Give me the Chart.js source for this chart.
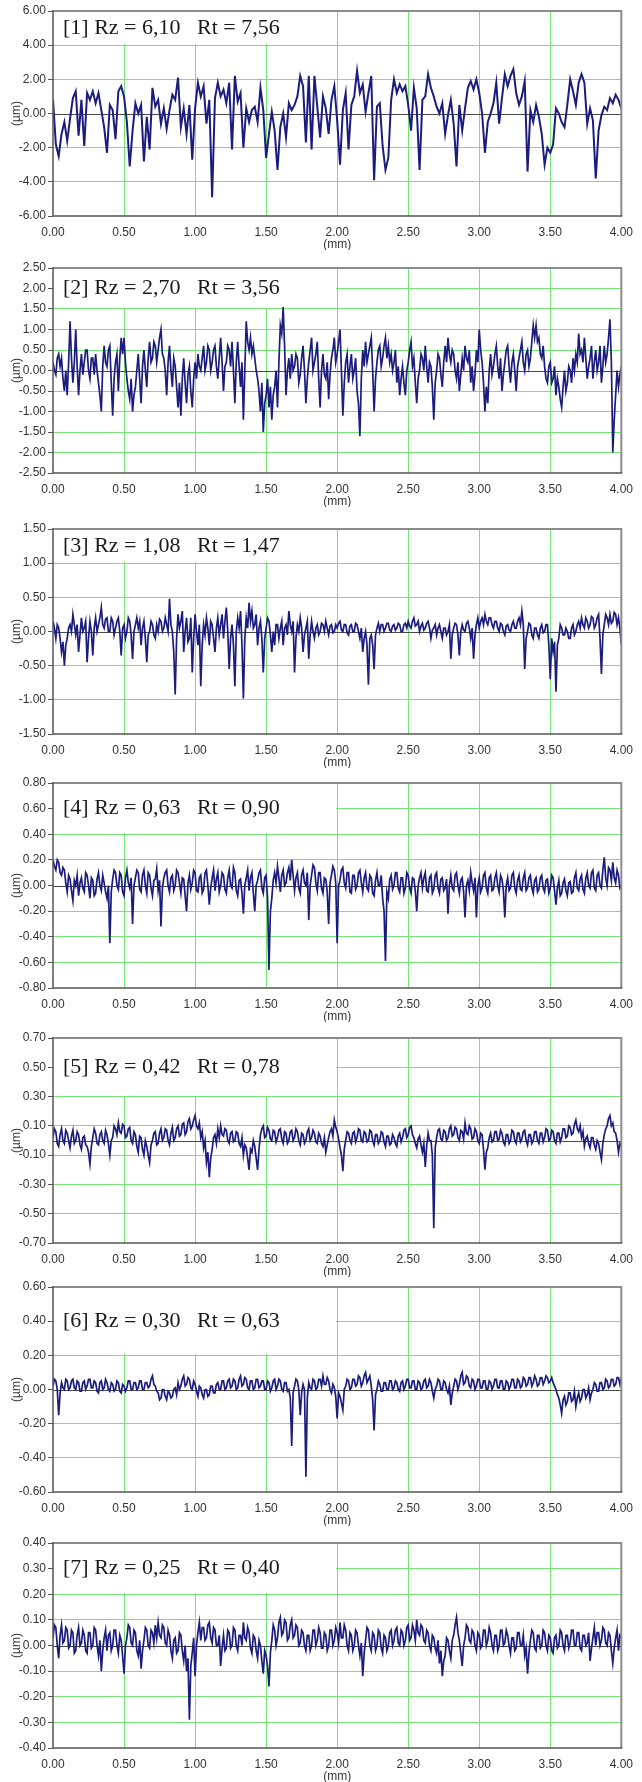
<!DOCTYPE html>
<html>
<head>
<meta charset="utf-8">
<script src="https://cdn.jsdelivr.net/npm/chart.js@4.4.1/dist/chart.umd.min.js"></script>
<style>
    body { margin: 0; background: #fff; width: 642px; height: 1782px; position: relative; overflow: hidden; }
    .panel { position: absolute; left: 0; width: 642px; height: 250px; }
</style>
</head>
<body>
<div class="panel" style="top:0px"><canvas id="p1" width="642" height="250"></canvas></div>
<div class="panel" style="top:257px"><canvas id="p2" width="642" height="250"></canvas></div>
<div class="panel" style="top:518px"><canvas id="p3" width="642" height="250"></canvas></div>
<div class="panel" style="top:772px"><canvas id="p4" width="642" height="250"></canvas></div>
<div class="panel" style="top:1027px"><canvas id="p5" width="642" height="250"></canvas></div>
<div class="panel" style="top:1276px"><canvas id="p6" width="642" height="250"></canvas></div>
<div class="panel" style="top:1532px"><canvas id="p7" width="642" height="250"></canvas></div>
<script>
// --------------------------------------------------------------------
// Data - profile heights (µm), evenly sampled from 0.00 to 4.00 mm
// (profile 1: every 0.02 mm, profiles 2-7: every 0.01 mm)
// --------------------------------------------------------------------
const X_START = 0;
const X_END = 4;

const profile1 = [
    0.8, -1.8, -2.5, -1.2, -0.5, -1.6, -0.3, 0.9, 1.3, -1.3, 0.8, -1.9, 1.2, 0.8, 1.3, 0.6, 1.2, 0.2, -0.8, -2.3,
    0.5, 0.2, -1.5, 1.3, 1.6, 1.0, -0.5, -3.1, -1.0, 0.6, 0.0, 0.5, -2.8, -0.2, -2.1, 1.5, 0.4, 0.8, -0.6, 0.3,
    -0.9, 0.2, 1.1, 0.8, 2.1, -0.8, 0.3, -1.2, 0.5, -2.7, 0.3, 1.8, 1.0, 1.6, -0.6, 0.8, -4.9, 0.9, 1.8, 1.0,
    1.4, 0.6, 1.8, -2.1, 2.2, 0.7, 1.2, -2.0, 0.3, -0.5, 0.2, 0.4, -0.5, 1.5, 0.2, -2.6, -1.2, 0.1, -1.0, -3.3,
    -0.8, 0.0, -1.4, 0.6, 0.2, 0.5, 1.0, 2.2, 1.6, -1.7, 2.2, -2.1, 2.2, 0.4, -1.4, 1.0, 0.3, -1.2, 0.8, 1.6,
    -0.4, -3.0, 0.2, 1.2, -2.1, 0.5, 1.0, 2.5, 1.2, 1.7, 0.1, 1.2, 2.2, -3.9, 0.4, 0.6, -1.9, -3.3, -2.6, 0.8,
    2.0, 1.2, 1.7, 1.3, 1.6, 0.5, -1.0, 1.5, 0.3, -3.3, 0.8, 1.0, 2.3, 1.5, 1.0, 0.4, 0.0, 0.6, -1.2, -0.1,
    0.8, -0.6, -3.1, 0.5, -1.0, 0.3, 1.5, 1.9, 1.4, 2.0, 1.2, 0.0, -2.3, -0.5, 0.0, 0.6, 1.8, -0.6, 0.9, 2.3,
    1.6, 2.2, 2.6, 1.2, 0.5, 1.0, 1.9, -3.4, 0.2, -0.5, 0.5, -0.2, -1.2, -3.0, -2.0, -2.3, -1.8, 0.3, 0.0, -0.5,
    -0.8, 0.5, 2.0, 1.3, 0.5, 1.8, 2.3, 1.8, -0.6, 0.3, -0.4, -3.8, -1.0, -0.1, 0.4, 0.2, 0.9, 0.6, 1.1, 0.8,
    0.3
];

const profile2 = [
    0.2, 0.0, -0.1, 0.3, 0.4, 0.1, 0.3, -0.2, -0.5, 0.0, -0.6, 0.2, 1.2, 0.3, -0.3, 0.2, 1.0, 0.1, -0.6, 0.0,
    0.4, -0.1, 0.2, 0.5, 0.5, 0.0, -0.2, 0.3, 0.3, -0.1, 0.4, 0.0, -0.3, -0.6, -1.0, 0.1, 0.6, 0.2, 0.1, 0.5,
    0.6, -0.3, -1.1, -0.2, 0.2, 0.4, -0.5, 0.3, 0.8, 0.4, 0.8, 0.2, -0.2, -0.5, -0.7, -0.2, -1.0, -0.6, -0.4, 0.0,
    0.4, -0.2, -0.8, 0.1, 0.5, 0.0, -0.4, 0.3, 0.7, 0.2, 0.3, 0.7, 0.6, 0.2, 0.5, 0.8, 1.0, 0.4, 0.3, 0.0,
    -0.6, 0.2, 0.6, 0.0, -0.4, 0.3, 0.1, -0.4, -0.9, -0.3, -1.1, -0.2, 0.3, -0.3, -0.8, -0.1, 0.1, -0.5, -0.9, -0.2,
    0.2, -0.2, 0.4, 0.1, 0.0, 0.3, 0.6, 0.0, 0.2, 0.6, 0.5, 0.0, 0.2, 0.5, 0.6, 0.1, -0.2, 0.3, 0.8, 0.2,
    -0.5, 0.1, 0.2, 0.6, 0.5, 0.1, 0.7, 0.0, -0.8, 0.2, 0.7, 0.1, -0.4, 0.2, -1.2, 0.0, 1.2, 0.7, 0.5, 0.8,
    0.4, 0.6, 0.3, 0.0, -0.2, -0.5, -1.0, -0.3, -1.5, -0.8, -0.6, -0.2, -0.9, -0.4, -1.2, -0.6, -0.4, 0.0, -0.9, 0.2,
    1.1, 0.9, 1.55, 0.6, -0.6, 0.0, 0.3, -0.2, 0.4, 0.0, 0.1, 0.4, 0.3, -0.3, -0.1, 0.3, 0.6, 0.0, -0.8, -0.2,
    0.2, 0.5, 0.8, 0.0, 0.2, 0.4, 0.7, -0.2, -0.9, 0.0, 0.4, -0.1, -0.2, 0.2, -0.7, -0.1, 0.3, 0.5, 0.8, 0.2,
    0.4, 0.7, 1.0, 0.0, -1.1, -0.3, 0.2, 0.4, -0.3, 0.1, 0.4, -0.2, 0.0, 0.3, -0.5, -0.8, -1.6, -0.2, 0.5, 0.1,
    0.7, 0.2, 0.4, 0.6, 0.8, 0.0, -1.0, -0.2, 0.2, 0.5, 0.6, 0.1, 0.3, 0.6, 0.8, 0.3, 0.6, 0.2, 0.4, 0.0,
    0.2, 0.5, -0.3, 0.1, -0.6, -0.2, 0.1, -0.3, -0.6, 0.0, 0.2, 0.5, 0.7, 0.1, 0.3, -0.3, -0.8, -0.2, 0.0, 0.4,
    0.3, 0.0, 0.6, 0.1, -0.3, 0.2, 0.1, -0.4, -1.2, -0.3, 0.0, 0.4, 0.3, -0.1, -0.4, 0.2, 0.6, 0.2, 0.8, 0.4,
    0.2, 0.5, 0.4, 0.0, -0.2, 0.2, -0.5, -0.1, 0.3, 0.0, 0.6, 0.3, 0.2, 0.5, -0.3, 0.1, -0.5, -0.1, 0.5, 0.2,
    1.0, 0.5, 0.2, -0.3, -1.0, -0.4, -0.8, 0.0, 0.4, -0.1, 0.1, 0.4, 0.6, 0.1, -0.2, 0.3, -0.5, -0.1, 0.2, 0.5,
    0.6, 0.1, -0.3, 0.2, 0.4, 0.0, -0.5, 0.1, 0.3, 0.5, 0.7, 0.2, 0.0, 0.4, 0.5, 0.1, 0.3, 0.7, 1.1, 0.8,
    1.1, 0.7, 0.8, 0.4, 0.3, 0.6, 0.1, -0.2, -0.3, 0.1, 0.2, -0.3, -0.2, 0.1, -0.6, -0.2, -0.4, -0.7, -0.9, -0.4,
    0.0, -0.5, -0.3, 0.1, 0.0, -0.3, 0.3, 0.0, 0.4, 0.2, 0.9, 0.4, 0.5, 0.2, 0.8, 0.3, -0.2, 0.1, 0.3, 0.6,
    -0.2, 0.2, 0.5, 0.0, 0.2, 0.6, -0.3, 0.1, 0.6, 0.2, 0.4, 0.8, 1.25, 0.2, -2.0, -1.2, -0.6, 0.0, -0.4, -0.1,
    0.1
];

const profile3 = [
    0.15, 0.05, -0.1, 0.1, 0.05, -0.1, -0.3, -0.15, -0.5, -0.2, -0.1, 0.05, 0.1, 0.0, 0.25, 0.1, -0.05, 0.1, -0.3, -0.05,
    0.2, 0.0, 0.05, 0.15, -0.45, -0.1, 0.15, 0.0, -0.35, 0.05, 0.2, 0.0, 0.1, 0.2, 0.35, 0.1, 0.05, 0.18, 0.2, 0.0,
    0.0, 0.2, 0.15, -0.05, 0.05, 0.15, 0.2, 0.0, -0.35, 0.05, 0.1, -0.1, 0.0, 0.2, 0.15, -0.05, -0.4, 0.0, 0.1, 0.2,
    0.05, 0.15, -0.2, 0.05, 0.15, -0.1, -0.45, -0.05, 0.0, 0.15, 0.1, -0.05, -0.1, 0.1, 0.0, 0.18, 0.15, 0.0, 0.05, 0.2,
    0.1, 0.0, 0.48, 0.1, 0.0, -0.3, -0.92, -0.1, 0.25, 0.05, 0.15, 0.3, -0.3, 0.0, 0.2, -0.15, -0.1, 0.2, -0.6, -0.1,
    0.25, 0.0, -0.2, 0.1, -0.8, -0.2, 0.1, -0.05, 0.2, 0.05, -0.2, 0.15, 0.1, -0.1, -0.3, 0.05, 0.2, -0.05, 0.1, 0.25,
    -0.1, 0.15, 0.35, 0.0, -0.55, -0.1, 0.1, -0.2, -0.8, 0.0, 0.2, 0.05, 0.3, -0.2, -0.98, -0.1, 0.2, 0.05, 0.42, 0.15,
    0.3, 0.05, 0.1, 0.25, -0.2, 0.05, 0.15, -0.1, -0.6, -0.1, 0.05, 0.2, 0.15, -0.05, -0.3, 0.0, -0.2, 0.1, 0.1, -0.1,
    0.05, 0.15, -0.2, 0.05, 0.1, -0.05, 0.3, 0.1, 0.0, 0.15, -0.6, -0.1, 0.1, 0.0, 0.2, 0.05, -0.3, -0.05, 0.05, 0.15,
    -0.4, -0.05, 0.15, 0.0, -0.1, 0.05, 0.1, -0.05, 0.0, 0.12, 0.1, 0.0, 0.15, 0.05, -0.05, 0.08, 0.1, -0.02, 0.0, 0.1,
    0.05, 0.12, 0.15, 0.02, 0.0, 0.1, 0.1, -0.02, -0.05, 0.08, 0.1, 0.0, 0.0, 0.12, 0.1, 0.0, -0.1, 0.05, -0.3, -0.1,
    0.0, -0.2, -0.78, -0.1, -0.05, -0.2, -0.55, -0.05, 0.05, 0.12, 0.0, 0.1, 0.1, 0.0, 0.05, 0.12, 0.12, 0.02, 0.0, 0.08,
    0.1, 0.02, 0.05, 0.12, 0.1, 0.0, 0.0, 0.1, 0.12, 0.05, 0.15, 0.08, 0.05, 0.15, 0.2, 0.08, 0.1, 0.15, 0.0, 0.08,
    0.12, 0.02, 0.05, 0.12, 0.15, 0.05, -0.1, 0.02, 0.05, 0.1, -0.05, 0.05, 0.1, 0.0, -0.1, 0.05, 0.05, -0.05, 0.0, 0.1,
    -0.4, -0.05, 0.05, 0.12, 0.1, -0.05, -0.35, 0.0, 0.1, 0.02, 0.0, 0.12, 0.15, 0.05, -0.1, 0.05, -0.4, -0.05, 0.1, 0.2,
    0.05, 0.15, 0.2, 0.1, 0.25, 0.15, 0.1, 0.2, 0.2, 0.1, 0.05, 0.15, 0.15, 0.05, 0.0, 0.12, 0.1, 0.0, -0.05, 0.08,
    0.1, 0.02, 0.0, 0.1, 0.15, 0.05, 0.05, 0.15, 0.2, 0.1, 0.3, 0.1, -0.55, -0.1, 0.0, 0.12, 0.1, -0.05, -0.1, 0.05,
    0.05, -0.05, -0.1, 0.05, 0.1, -0.02, 0.0, 0.1, 0.1, -0.2, -0.7, -0.1, -0.3, -0.15, -0.88, -0.2, -0.1, 0.1, 0.05, -0.05,
    -0.05, 0.05, 0.0, -0.1, -0.1, 0.05, 0.1, -0.05, 0.0, 0.1, 0.15, 0.05, 0.2, 0.1, 0.05, 0.2, 0.15, 0.05, 0.1, 0.22,
    0.2, 0.05, 0.1, 0.2, 0.25, -0.1, -0.62, -0.05, 0.1, 0.25, 0.2, 0.1, 0.25, 0.12, 0.15, 0.28, 0.25, 0.1, 0.2, 0.05,
    -0.2
];

const profile4 = [
    0.2, 0.15, 0.12, 0.2, 0.18, 0.1, 0.08, 0.14, 0.12, 0.02, -0.05, 0.08, 0.05, -0.04, -0.12, 0.04, 0.0, 0.08, -0.08, 0.02,
    0.06, -0.02, -0.05, 0.1, 0.08, 0.0, -0.1, 0.06, 0.04, -0.08, -0.06, 0.05, 0.1, 0.0, -0.04, 0.08, 0.02, -0.05, -0.1, 0.0,
    -0.45, -0.05, 0.05, 0.12, 0.1, 0.0, -0.03, 0.1, 0.08, -0.05, -0.08, 0.06, 0.12, 0.02, -0.02, 0.06, -0.3, 0.0, 0.06, 0.12,
    0.1, -0.03, -0.05, 0.08, 0.12, 0.0, -0.06, 0.1, 0.08, -0.02, -0.08, 0.04, 0.05, 0.13, -0.04, 0.04, -0.32, -0.02, 0.06, 0.1,
    0.12, 0.0, -0.05, 0.06, 0.08, -0.04, 0.0, 0.12, 0.1, 0.02, -0.06, 0.06, 0.05, -0.08, -0.2, 0.02, 0.08, -0.03, 0.02, 0.12,
    0.1, -0.04, -0.05, 0.06, 0.08, -0.06, -0.03, 0.1, 0.12, 0.0, -0.15, -0.02, 0.06, 0.12, -0.04, 0.05, 0.1, -0.05, 0.0, 0.1,
    0.08, -0.03, -0.06, 0.06, 0.12, 0.0, -0.02, 0.14, 0.1, -0.04, -0.08, 0.04, 0.05, -0.06, -0.22, 0.0, 0.06, 0.12, -0.04, 0.06,
    0.1, -0.06, -0.2, 0.0, 0.04, 0.1, 0.12, -0.02, -0.06, 0.06, 0.08, -0.1, -0.66, -0.2, -0.1, 0.04, 0.1, 0.02, 0.15, 0.06,
    -0.05, 0.08, 0.12, 0.0, 0.02, 0.1, 0.14, 0.04, 0.2, 0.08, -0.04, 0.06, 0.1, -0.02, -0.06, 0.08, 0.12, 0.02, 0.0, 0.1,
    -0.27, 0.0, 0.08, 0.16, 0.14, 0.02, -0.04, 0.1, 0.1, -0.02, -0.06, 0.06, 0.05, -0.05, -0.3, 0.02, 0.08, 0.15, 0.12, 0.02,
    -0.45, 0.0, 0.04, 0.12, 0.14, 0.02, -0.02, 0.1, 0.1, -0.05, -0.06, 0.08, 0.08, -0.03, 0.0, 0.1, 0.12, 0.02, -0.05, 0.06,
    0.1, -0.02, -0.04, 0.08, 0.06, -0.06, -0.08, 0.04, 0.1, 0.0, 0.0, 0.08, -0.1, -0.2, -0.59, -0.05, -0.1, 0.05, 0.08, -0.03,
    0.0, 0.1, 0.1, -0.02, -0.05, 0.06, 0.06, -0.06, -0.02, 0.1, 0.08, -0.02, -0.06, 0.06, 0.05, -0.04, -0.2, 0.0, 0.06, 0.1,
    -0.02, 0.06, 0.1, -0.04, -0.05, 0.06, 0.08, -0.06, -0.03, 0.08, 0.1, -0.02, -0.06, 0.05, 0.06, -0.04, -0.02, 0.05, -0.22, 0.0,
    0.08, -0.02, -0.04, 0.08, 0.1, 0.0, -0.06, 0.04, 0.06, -0.05, -0.25, 0.0, 0.04, -0.04, 0.1, 0.02, -0.04, 0.06, -0.25, 0.0,
    0.06, -0.05, -0.02, 0.08, 0.1, -0.02, -0.06, 0.06, 0.08, -0.04, -0.03, 0.06, 0.1, 0.0, -0.05, 0.08, 0.05, -0.04, -0.25, 0.0,
    0.06, -0.04, -0.02, 0.08, 0.1, -0.02, -0.06, 0.04, 0.08, -0.03, -0.04, 0.06, 0.1, -0.04, -0.02, 0.06, 0.08, -0.02, -0.06, 0.04,
    0.06, -0.05, -0.03, 0.06, 0.08, -0.02, -0.05, 0.04, 0.05, -0.06, -0.02, 0.08, 0.06, -0.04, -0.15, -0.02, 0.04, -0.08, -0.06, 0.02,
    0.05, -0.04, -0.08, 0.02, 0.03, -0.06, -0.05, 0.06, 0.1, -0.02, -0.04, 0.05, 0.08, -0.03, -0.06, 0.06, 0.1, 0.0, -0.02, 0.1,
    0.12, -0.02, -0.04, 0.08, 0.1, 0.0, -0.02, 0.12, 0.22, 0.06, 0.0, 0.14, 0.12, 0.04, 0.18, 0.06, 0.02, 0.12, 0.08, -0.02,
    0.0
];

const profile5 = [
    0.02, 0.08, 0.06, -0.02, -0.04, 0.04, 0.08, 0.0, -0.02, 0.07, 0.05, 0.0, -0.05, 0.03, 0.07, -0.02, 0.0, 0.06, 0.04, -0.03,
    -0.06, 0.02, 0.03, -0.03, -0.04, -0.08, -0.16, -0.04, 0.02, 0.08, 0.05, -0.02, -0.03, 0.04, 0.06, 0.0, -0.02, 0.07, 0.04, -0.02,
    -0.1, 0.0, 0.02, 0.1, 0.08, 0.04, 0.12, 0.06, 0.05, 0.11, 0.1, 0.02, 0.03, 0.08, 0.09, 0.0, -0.02, 0.06, 0.04, -0.04,
    -0.08, 0.03, 0.02, -0.06, -0.1, 0.0, -0.04, -0.1, -0.15, -0.03, 0.0, 0.05, 0.06, -0.03, -0.02, 0.05, 0.08, 0.0, 0.02, 0.08,
    0.07, 0.0, -0.03, 0.05, 0.09, 0.0, 0.02, 0.08, 0.1, 0.03, 0.04, 0.11, 0.12, 0.04, 0.06, 0.13, 0.15, 0.08, 0.1, 0.14,
    0.17, 0.1, 0.08, 0.12, 0.02, 0.06, -0.05, 0.0, -0.15, -0.08, -0.25, -0.12, -0.06, 0.02, 0.04, -0.02, 0.08, 0.02, 0.1, 0.04,
    0.03, 0.08, 0.07, 0.0, -0.02, 0.05, 0.06, -0.01, 0.0, 0.06, 0.05, -0.02, -0.04, 0.02, -0.1, -0.03, -0.05, -0.12, -0.2, -0.06,
    -0.08, 0.0, -0.04, -0.12, -0.2, -0.06, 0.04, 0.08, 0.1, 0.02, 0.03, 0.09, 0.07, 0.01, 0.0, 0.07, 0.06, -0.01, 0.02, 0.07,
    0.08, 0.01, -0.02, 0.06, 0.05, -0.02, 0.0, 0.06, 0.07, 0.0, 0.02, 0.08, 0.06, 0.0, -0.03, 0.05, 0.04, -0.02, 0.0, 0.06,
    0.08, 0.0, 0.02, 0.07, 0.05, -0.01, -0.02, 0.05, 0.03, -0.02, -0.04, 0.02, -0.08, -0.03, 0.02, 0.06, 0.08, 0.03, 0.14, 0.09,
    0.06, 0.01, -0.05, -0.1, -0.21, -0.06, 0.0, 0.06, 0.05, 0.0, -0.02, 0.05, 0.06, -0.01, 0.02, 0.08, 0.07, 0.0, -0.01, 0.06,
    0.05, -0.01, 0.0, 0.07, 0.06, 0.0, -0.03, 0.04, 0.04, -0.02, 0.0, 0.06, 0.05, -0.01, -0.04, 0.03, 0.03, -0.03, -0.02, 0.04,
    0.02, -0.02, -0.04, 0.03, 0.05, -0.01, 0.02, 0.07, 0.08, 0.02, 0.04, 0.09, 0.1, 0.04, 0.02, -0.02, -0.05, 0.01, 0.03, -0.03,
    -0.08, -0.02, -0.18, -0.04, 0.05, 0.0, 0.0, -0.1, -0.6, -0.05, 0.02, 0.07, 0.08, 0.01, 0.0, 0.07, 0.06, 0.0, 0.02, 0.08,
    0.1, 0.03, 0.04, 0.09, 0.08, 0.02, 0.0, 0.07, 0.06, 0.01, 0.12, 0.05, 0.04, 0.1, 0.08, 0.01, 0.02, 0.08, 0.06, 0.0,
    -0.02, 0.05, 0.04, -0.06, -0.2, -0.08, -0.05, 0.02, 0.05, -0.01, 0.0, 0.06, 0.06, 0.0, 0.01, 0.07, 0.05, -0.01, -0.03, 0.04,
    0.04, -0.02, 0.0, 0.07, 0.06, 0.0, -0.02, 0.05, 0.05, -0.01, 0.01, 0.06, 0.07, 0.0, -0.03, 0.04, 0.04, -0.02, 0.0, 0.06,
    0.06, 0.0, -0.02, 0.05, 0.05, -0.01, 0.02, 0.08, 0.07, 0.0, 0.01, 0.07, 0.06, 0.0, -0.02, 0.05, 0.05, -0.01, 0.02, 0.08,
    0.08, 0.02, 0.03, 0.1, 0.09, 0.04, 0.05, 0.11, 0.14, 0.08, 0.06, 0.1, 0.02, 0.06, -0.04, 0.01, 0.03, -0.02, -0.05, 0.02,
    0.02, -0.03, -0.06, 0.0, -0.02, -0.08, -0.13, -0.02, 0.04, 0.08, 0.1, 0.15, 0.17, 0.1, 0.12, 0.06, 0.05, 0.0, -0.08, -0.02,
    -0.04
];

const profile6 = [
    0.02, 0.06, 0.05, 0.0, -0.15, -0.02, 0.04, 0.01, 0.0, 0.06, 0.05, 0.0, 0.01, 0.05, 0.06, 0.01, 0.0, 0.05, 0.04, -0.01,
    -0.01, 0.04, 0.05, 0.0, 0.02, 0.06, 0.06, 0.01, 0.01, 0.05, 0.04, -0.01, -0.02, 0.04, 0.05, 0.0, 0.01, 0.06, 0.04, 0.0,
    -0.01, 0.04, 0.03, -0.01, 0.0, 0.05, 0.04, -0.01, -0.02, 0.03, 0.02, -0.01, 0.01, 0.05, 0.05, 0.0, 0.0, 0.04, 0.04, 0.0,
    0.01, 0.05, 0.05, 0.0, 0.0, 0.04, 0.04, 0.01, 0.02, 0.06, 0.08, 0.03, 0.02, -0.01, -0.02, -0.06, -0.05, 0.0, 0.0, -0.04,
    -0.06, -0.01, -0.02, -0.05, -0.04, 0.0, 0.01, -0.03, 0.04, 0.0, 0.02, 0.06, 0.08, 0.02, 0.03, 0.07, 0.06, 0.01, 0.0, 0.05,
    0.03, -0.01, -0.04, 0.02, 0.01, -0.03, -0.05, 0.0, 0.0, -0.04, -0.03, 0.02, 0.02, -0.02, -0.02, 0.03, 0.04, 0.0, 0.0, 0.05,
    0.05, 0.0, 0.01, 0.05, 0.06, 0.01, 0.02, 0.06, 0.05, 0.0, 0.01, 0.06, 0.08, 0.02, 0.03, 0.07, 0.06, 0.01, 0.0, 0.05,
    0.05, 0.0, 0.01, 0.06, 0.06, 0.01, 0.02, 0.05, 0.05, 0.0, 0.0, 0.05, 0.04, -0.01, 0.01, 0.05, 0.06, 0.0, 0.02, 0.06,
    0.05, 0.0, -0.01, 0.04, 0.04, -0.01, 0.0, -0.05, -0.33, -0.02, 0.02, 0.06, 0.05, 0.0, -0.15, -0.02, 0.03, 0.0, -0.51, -0.05,
    0.04, 0.01, 0.0, 0.06, 0.05, 0.0, 0.01, 0.06, 0.06, 0.02, 0.08, 0.03, 0.03, 0.07, 0.05, 0.0, -0.02, 0.03, 0.01, -0.04,
    -0.17, -0.02, -0.04, -0.08, -0.12, 0.0, 0.02, 0.06, 0.05, 0.0, 0.01, 0.06, 0.06, 0.02, 0.03, 0.08, 0.07, 0.02, 0.04, 0.08,
    0.1, 0.04, 0.06, 0.08, 0.02, -0.06, -0.24, -0.03, 0.0, 0.05, 0.03, -0.01, -0.01, 0.04, 0.04, 0.0, 0.0, 0.05, 0.05, 0.0,
    0.01, 0.05, 0.04, 0.0, -0.01, 0.04, 0.05, 0.0, 0.02, 0.06, 0.06, 0.01, 0.01, 0.05, 0.05, 0.0, 0.0, 0.05, 0.04, 0.0,
    0.01, 0.05, 0.06, 0.01, 0.02, 0.06, 0.04, -0.01, -0.05, 0.0, 0.02, 0.06, 0.05, 0.0, 0.0, 0.05, 0.04, 0.0, -0.02, 0.02,
    -0.09, -0.02, 0.02, 0.06, 0.05, 0.0, 0.03, 0.08, 0.1, 0.03, 0.04, 0.08, 0.07, 0.02, 0.01, 0.06, 0.05, 0.0, 0.02, 0.06,
    0.06, 0.01, 0.01, 0.05, 0.05, 0.0, 0.0, 0.05, 0.04, 0.0, 0.02, 0.06, 0.06, 0.01, 0.01, 0.05, 0.05, 0.0, 0.0, 0.05,
    0.04, 0.0, 0.02, 0.06, 0.06, 0.01, 0.01, 0.06, 0.05, 0.01, 0.02, 0.07, 0.06, 0.02, 0.03, 0.07, 0.07, 0.02, 0.04, 0.08,
    0.06, 0.02, 0.03, 0.07, 0.07, 0.03, 0.05, 0.08, 0.07, 0.04, 0.05, 0.07, 0.04, 0.02, 0.0, -0.03, -0.05, -0.09, -0.14, -0.06,
    -0.04, -0.09, -0.07, -0.02, -0.02, -0.07, -0.06, -0.01, -0.1, -0.05, -0.02, -0.07, -0.05, 0.0, 0.0, -0.05, -0.03, 0.01, -0.06, -0.02,
    0.0, 0.04, 0.03, -0.01, -0.01, 0.04, 0.04, 0.0, 0.01, 0.06, 0.05, 0.01, 0.02, 0.06, 0.06, 0.02, 0.03, 0.07, 0.07, 0.03,
    0.07
];

const profile7 = [
    0.03, 0.08, 0.07, 0.0, -0.05, 0.04, 0.08, 0.01, 0.02, 0.07, 0.06, -0.01, 0.0, 0.06, 0.05, -0.03, -0.02, 0.04, 0.07, 0.0,
    0.01, 0.06, 0.04, -0.02, -0.03, 0.05, 0.05, -0.01, 0.0, 0.07, 0.06, 0.0, -0.04, 0.02, -0.1, -0.02, 0.03, 0.06, -0.02, 0.04,
    0.05, -0.02, 0.0, 0.06, 0.06, 0.0, -0.03, 0.04, 0.02, -0.04, -0.11, 0.0, 0.03, 0.08, 0.07, 0.01, 0.0, 0.06, 0.05, -0.02,
    -0.04, 0.02, -0.09, -0.02, 0.02, 0.07, 0.06, 0.0, -0.01, 0.06, 0.05, 0.01, 0.08, 0.03, 0.09, 0.04, 0.03, 0.08, 0.07, 0.01,
    0.0, 0.06, 0.04, -0.02, -0.05, 0.02, 0.03, -0.03, -0.02, 0.05, 0.04, -0.02, -0.06, 0.0, -0.1, -0.05, -0.29, -0.08, -0.03, 0.03,
    -0.12, 0.0, 0.05, 0.09, 0.02, 0.07, 0.07, 0.02, 0.03, 0.08, 0.09, 0.03, 0.01, 0.07, 0.06, 0.0, 0.0, 0.04, -0.08, -0.01,
    0.04, -0.02, -0.01, 0.06, 0.05, -0.01, 0.0, 0.07, 0.06, 0.0, -0.02, 0.04, 0.04, 0.0, 0.09, 0.03, 0.02, 0.07, 0.05, -0.01,
    -0.03, 0.04, 0.03, -0.02, -0.05, 0.02, 0.0, -0.06, -0.11, -0.02, -0.04, -0.08, -0.16, -0.03, 0.02, 0.08, 0.06, 0.0, 0.03, 0.09,
    0.11, 0.04, 0.05, 0.1, 0.09, 0.02, 0.03, 0.08, 0.1, 0.03, 0.04, 0.08, 0.07, 0.0, 0.01, 0.06, 0.05, 0.0, -0.02, 0.04,
    0.04, -0.02, 0.0, 0.06, 0.06, 0.0, 0.02, 0.07, 0.05, -0.01, -0.01, 0.05, 0.04, -0.02, 0.0, 0.06, 0.06, 0.0, 0.02, 0.07,
    0.05, 0.01, 0.09, 0.03, 0.03, 0.08, 0.06, 0.0, -0.02, 0.05, 0.04, -0.02, 0.0, 0.06, 0.05, 0.0, -0.04, 0.01, -0.12, -0.03,
    0.02, 0.07, 0.06, 0.0, -0.02, 0.05, 0.04, -0.02, 0.0, 0.06, 0.05, -0.01, -0.03, 0.04, 0.03, -0.02, 0.0, 0.05, 0.06, 0.0,
    0.02, 0.06, 0.07, 0.01, 0.0, 0.06, 0.05, 0.0, 0.02, 0.07, 0.08, 0.02, 0.03, 0.08, 0.06, 0.02, 0.1, 0.05, 0.04, 0.08,
    0.07, 0.02, 0.01, 0.06, 0.05, 0.0, -0.02, 0.04, 0.03, -0.01, -0.03, 0.02, -0.07, -0.02, -0.12, -0.06, -0.04, 0.03, 0.02, -0.02,
    -0.05, 0.02, 0.04, 0.08, 0.11, 0.05, 0.02, -0.03, -0.08, 0.0, 0.03, 0.08, 0.07, 0.02, 0.01, 0.06, 0.05, 0.0, -0.02, 0.05,
    0.04, -0.01, 0.0, 0.06, 0.06, 0.0, 0.02, 0.07, 0.05, 0.0, -0.02, 0.04, 0.04, -0.02, 0.0, 0.06, 0.06, 0.0, 0.01, 0.06,
    0.04, 0.0, -0.03, 0.03, 0.03, -0.02, -0.01, 0.05, 0.05, 0.0, 0.0, 0.04, -0.04, -0.01, -0.11, -0.03, 0.02, 0.06, 0.05, -0.01,
    -0.02, 0.04, 0.04, -0.01, 0.0, 0.06, 0.05, 0.0, -0.02, 0.04, 0.03, -0.02, -0.03, 0.03, 0.04, -0.01, 0.0, 0.06, 0.05, 0.0,
    -0.02, 0.04, 0.04, -0.01, 0.01, 0.06, 0.06, 0.0, 0.0, 0.05, 0.05, -0.01, -0.02, 0.04, 0.04, 0.0, 0.01, 0.05, -0.06, -0.01,
    0.03, 0.07, 0.0, 0.05, 0.05, 0.0, 0.02, 0.07, 0.06, 0.01, 0.0, 0.05, 0.04, -0.02, -0.07, -0.01, 0.03, 0.06, -0.02, 0.04,
    0.03
];

const profiles = [profile1, profile2, profile3, profile4, profile5, profile6, profile7];

const panelTitles = [
    '[1] Rz = 6,10   Rt = 7,56',
    '[2] Rz = 2,70   Rt = 3,56',
    '[3] Rz = 1,08   Rt = 1,47',
    '[4] Rz = 0,63   Rt = 0,90',
    '[5] Rz = 0,42   Rt = 0,78',
    '[6] Rz = 0,30   Rt = 0,63',
    '[7] Rz = 0,25   Rt = 0,40'
];

// y axis ranges and tick steps (µm)
const yMins  = [-6, -2.5, -1.5, -0.8, -0.7, -0.6, -0.4];
const yMaxs  = [6, 2.5, 1.5, 0.8, 0.7, 0.6, 0.4];
const ySteps = [2, 0.5, 0.5, 0.2, 0.2, 0.2, 0.1];
const xStep = 0.5;

// --------------------------------------------------------------------
// Layout - where the label box and the title sit (in axis units)
// --------------------------------------------------------------------
const titleAt = [5, 2, 1.25, 0.6, 0.5, 0.4, 0.3];
const boxBottomAt = [4, 1.5, 1.0, 0.4, 0.3, 0.2, 0.2];
const boxRightAt = 2.0;

const GRID_GREEN = '#74e474';
const LINE_BLUE = '#1c1c7e';
const TEXT_GRAY = '#333';
const SANS = '"Liberation Sans", Arial, sans-serif';

function toPoints(values) {
    const step = (X_END - X_START) / (values.length - 1);
    return values.map((v, i) => ({ x: X_START + i * step, y: v }));
}

// Label box, zero line, frame and axis units
const panelDecor = {
    id: 'panelDecor',
    beforeDatasetsDraw(chart, args, opts) {
        const { ctx, chartArea: a, scales: { x, y } } = chart;
        ctx.save();

        // white box behind the title
        const bx = Math.round(x.getPixelForValue(boxRightAt)) - 1;
        const by = Math.round(y.getPixelForValue(opts.boxBottom)) - 1;
        ctx.fillStyle = '#fff';
        ctx.fillRect(a.left + 1, a.top + 1, bx - a.left - 1, by - a.top - 1);

        // zero line
        const y0 = Math.round(y.getPixelForValue(0)) + 0.5;
        ctx.strokeStyle = '#4a4a4a';
        ctx.lineWidth = 1;
        ctx.beginPath();
        ctx.moveTo(a.left, y0);
        ctx.lineTo(a.right, y0);
        ctx.stroke();

        // title
        ctx.fillStyle = '#1a1a1a';
        ctx.font = '22px "Liberation Serif", "Times New Roman", serif';
        ctx.textAlign = 'left';
        ctx.textBaseline = 'middle';
        ctx.fillText(opts.title, a.left + 10, y.getPixelForValue(opts.titleY));
        ctx.restore();
    },
    afterDatasetsDraw(chart) {
        const { ctx, chartArea: a, scales: { x, y } } = chart;
        ctx.save();

        // frame: top/right lighter, left/bottom darker
        ctx.lineWidth = 2;
        ctx.strokeStyle = '#8c8c8c';
        ctx.beginPath();
        ctx.moveTo(a.left, a.top);
        ctx.lineTo(a.right, a.top);
        ctx.lineTo(a.right, a.bottom);
        ctx.stroke();
        ctx.strokeStyle = '#555';
        ctx.lineWidth = 1.5;
        ctx.beginPath();
        ctx.moveTo(a.left, a.top - 1);
        ctx.lineTo(a.left, a.bottom);
        ctx.lineTo(a.right + 1, a.bottom);
        ctx.stroke();

        // axis units
        ctx.fillStyle = TEXT_GRAY;
        ctx.font = '12px ' + SANS;
        ctx.textAlign = 'center';
        ctx.textBaseline = 'middle';
        ctx.fillText('(mm)', x.getPixelForValue(2), a.bottom + 29);

        ctx.translate(17, y.getPixelForValue(0));
        ctx.rotate(-Math.PI / 2);
        ctx.fillText('(µm)', 0, 0);
        ctx.restore();
    }
};

profiles.forEach(function (values, i) {
    const yMin = yMins[i];
    const yMax = yMaxs[i];
    const isEdge = (v, lo, hi) => Math.abs(v - lo) < 1e-9 || Math.abs(v - hi) < 1e-9;

    new Chart(document.getElementById('p' + (i + 1)), {
        type: 'line',
        data: {
            datasets: [{
                data: toPoints(values),
                borderColor: LINE_BLUE,
                borderWidth: i === 0 ? 2 : 1.7,
                pointRadius: 0,
                tension: 0,
                fill: false
            }]
        },
        options: {
            responsive: false,
            animation: false,
            events: [],
            layout: { padding: { top: 11, right: 14, left: 0, bottom: 0 } },
            plugins: {
                legend: { display: false },
                tooltip: { enabled: false },
                panelDecor: { title: panelTitles[i], titleY: titleAt[i], boxBottom: boxBottomAt[i] }
            },
            scales: {
                x: {
                    type: 'linear',
                    min: X_START,
                    max: X_END,
                    afterFit: s => { s.height = 34; },
                    border: { display: false },
                    grid: {
                        color: c => isEdge(c.tick.value, X_START, X_END) ? 'rgba(0,0,0,0)' : GRID_GREEN,
                        lineWidth: 1,
                        drawTicks: false
                    },
                    ticks: {
                        stepSize: xStep,
                        autoSkip: false,
                        maxRotation: 0,
                        padding: 9,
                        color: TEXT_GRAY,
                        font: { family: SANS, size: 12 },
                        callback: v => v.toFixed(2)
                    }
                },
                y: {
                    min: yMin,
                    max: yMax,
                    afterFit: s => { s.width = 53; },
                    border: { display: false },
                    grid: {
                        color: c => (isEdge(c.tick.value, yMin, yMax) || Math.abs(c.tick.value) < 1e-9) ? 'rgba(0,0,0,0)' : GRID_GREEN,
                        lineWidth: 1,
                        drawTicks: true,
                        tickLength: 5,
                        tickColor: '#555'
                    },
                    ticks: {
                        stepSize: ySteps[i],
                        autoSkip: false,
                        padding: 2,
                        color: TEXT_GRAY,
                        font: { family: SANS, size: 12 },
                        callback: v => v.toFixed(2)
                    }
                }
            }
        },
        plugins: [panelDecor]
    });
});
</script>
</body>
</html>
